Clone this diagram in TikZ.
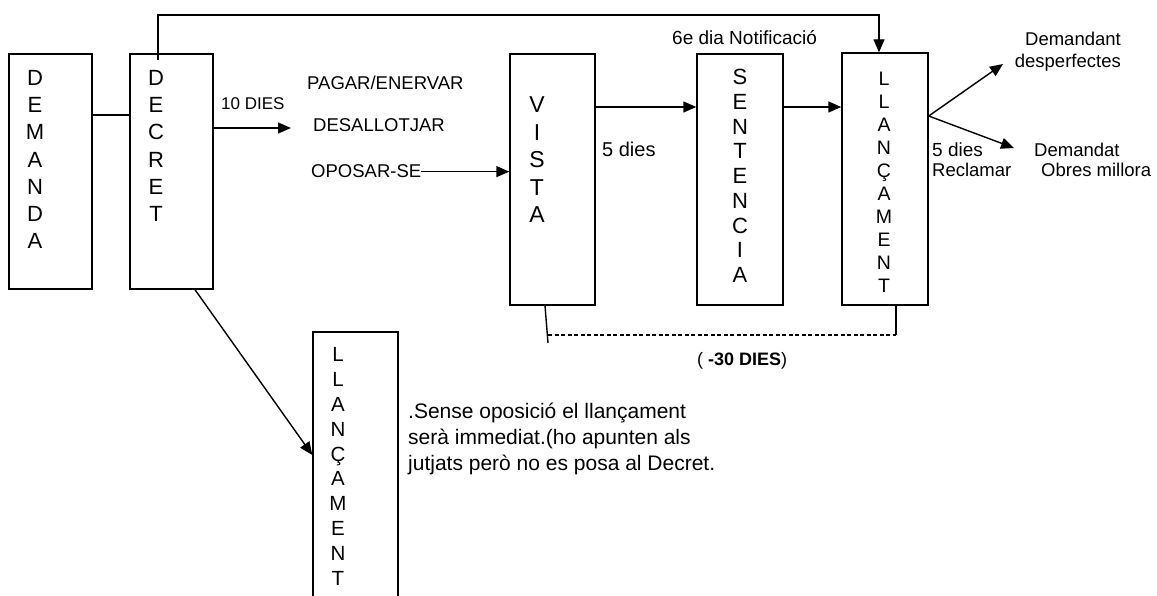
\documentclass[tikz,border=0pt]{standalone}
\usepackage{fontspec}
\setmainfont{Liberation Sans}
\usetikzlibrary{arrows.meta}
\tikzset{
  box/.style 2 args={draw, line width=1.4pt, inner sep=0pt, minimum width=#1, minimum height=#2},
  stack/.style 2 args={align=center, inner sep=0pt, font=\fontsize{#1}{#2}\selectfont},
  lbl/.style={inner sep=0pt, anchor=base west, font=\fontsize{#1}{#1}\selectfont},
  conn/.style={line width=1.4pt},
  arr/.style={line width=1.4pt, -{Triangle[length=13pt,width=11pt]}},
  dsh/.style={line width=1.1pt, dash pattern=on 4pt off 2.5pt}
}
\begin{document}
\begin{tikzpicture}[x=1pt,y=-1pt]
\clip (0,0) rectangle (1157,596);
\fill[white] (0,0) rectangle (1157,596);
% boxes
\node[box={83pt}{235pt}] (dem) at (50.5,171.5) {};
\node[box={83pt}{235pt}] (dec) at (171.5,171.5) {};
\node[box={85pt}{251pt}] (vista) at (552.5,179.5) {};
\node[box={86pt}{251pt}] (sent) at (740,179.5) {};
\node[box={86pt}{252pt}] (lr) at (885,179) {};
\node[box={85pt}{288pt}] (lb) at (355.5,476) {};
% letter stacks
\node[stack={22}{27.3}] (demt) at (35,159.5) {D\\E\\M\\A\\N\\D\\A};
\node[stack={22}{27.3}] (dect) at (156,145.8) {D\\E\\C\\R\\E\\T};
\node[stack={23}{27.5}] (vistat) at (537,160) {V\\I\\S\\T\\A};
\node[stack={22}{24.75}] (sentt) at (740,176) {S\\E\\N\\T\\E\\N\\C\\I\\A};
\node[stack={19.5}{23}] (lrt) at (884,182.5) {L\\L\\A\\N\\Ç\\A\\M\\E\\N\\T};
\node[stack={20.5}{24.8}] (lbt) at (338,466.5) {L\\L\\A\\N\\Ç\\A\\M\\E\\N\\T};
% labels
\node[lbl=17] (ten) at (221,110) {10 DIES};
\node[lbl=18.5] (pag) at (307,90) {PAGAR/ENERVAR};
\node[lbl=18.5] (des) at (313,132) {DESALLOTJAR};
\node[lbl=18.5] (opo) at (311,178) {OPOSAR-SE};
\node[lbl=19] (sis) at (672,45) {6e dia Notificació};
\node[lbl=20] (cinc) at (602,157) {5 dies};
\node[inner sep=0pt, anchor=north east, align=right, font=\fontsize{18.5}{22}\selectfont] (dmt) at (1121,32) {Demandant\\desperfectes};
\node[lbl=19] (cinc2) at (932,157) {5 dies};
\node[lbl=18.5] (recl) at (932,177) {Reclamar};
\node[lbl=18.5] (dmd) at (1034,157) {Demandat};
\node[lbl=18.5] (obr) at (1041,177) {Obres millora};
\node[lbl=18] (trenta) at (697,365) {( \textbf{-30 DIES})};
\node[inner sep=0pt, anchor=north west, align=left, font=\fontsize{21}{26}\selectfont] (nota) at (408,403) {.Sense oposició el llançament\\serà immediat.(ho apunten als\\jutjats però no es posa al Decret.};
% connectors
\draw[conn] (dem.east |- 0,115) -- (dec.west |- 0,115);
\coordinate (topstart) at (158,60);
\coordinate (topturn) at (879,15);
\draw[arr] (topstart) |- (topturn) -- (topturn |- lr.north);
\coordinate (tenend) at (291,128);
\draw[arr] (dec.east |- tenend) -- (tenend);
\draw[arr] (opo.east) -- (vista.west |- opo.east);
\draw[arr] (vista.east |- 0,107) -- (sent.west |- 0,107);
\draw[arr] (sent.east |- 0,107) -- (lr.west |- 0,107);
\coordinate (b1) at (1003,64);
\coordinate (b2) at (1014,148);
\draw[arr] (lr.east |- 0,116) -- (b1);
\draw[arr] (lr.east |- 0,116) -- (b2);
\draw[arr] (dec.south -| 195,0) -- (lb.west |- 0,455);
\coordinate (dl) at (548,343);
\coordinate (dr) at (896,335);
\draw[conn] (vista.south -| 545,0) -- (dl);
\draw[conn] (lr.south -| dr) -- (dr);
\draw[dsh] (548,335) -- (dr);
\end{tikzpicture}
\end{document}
